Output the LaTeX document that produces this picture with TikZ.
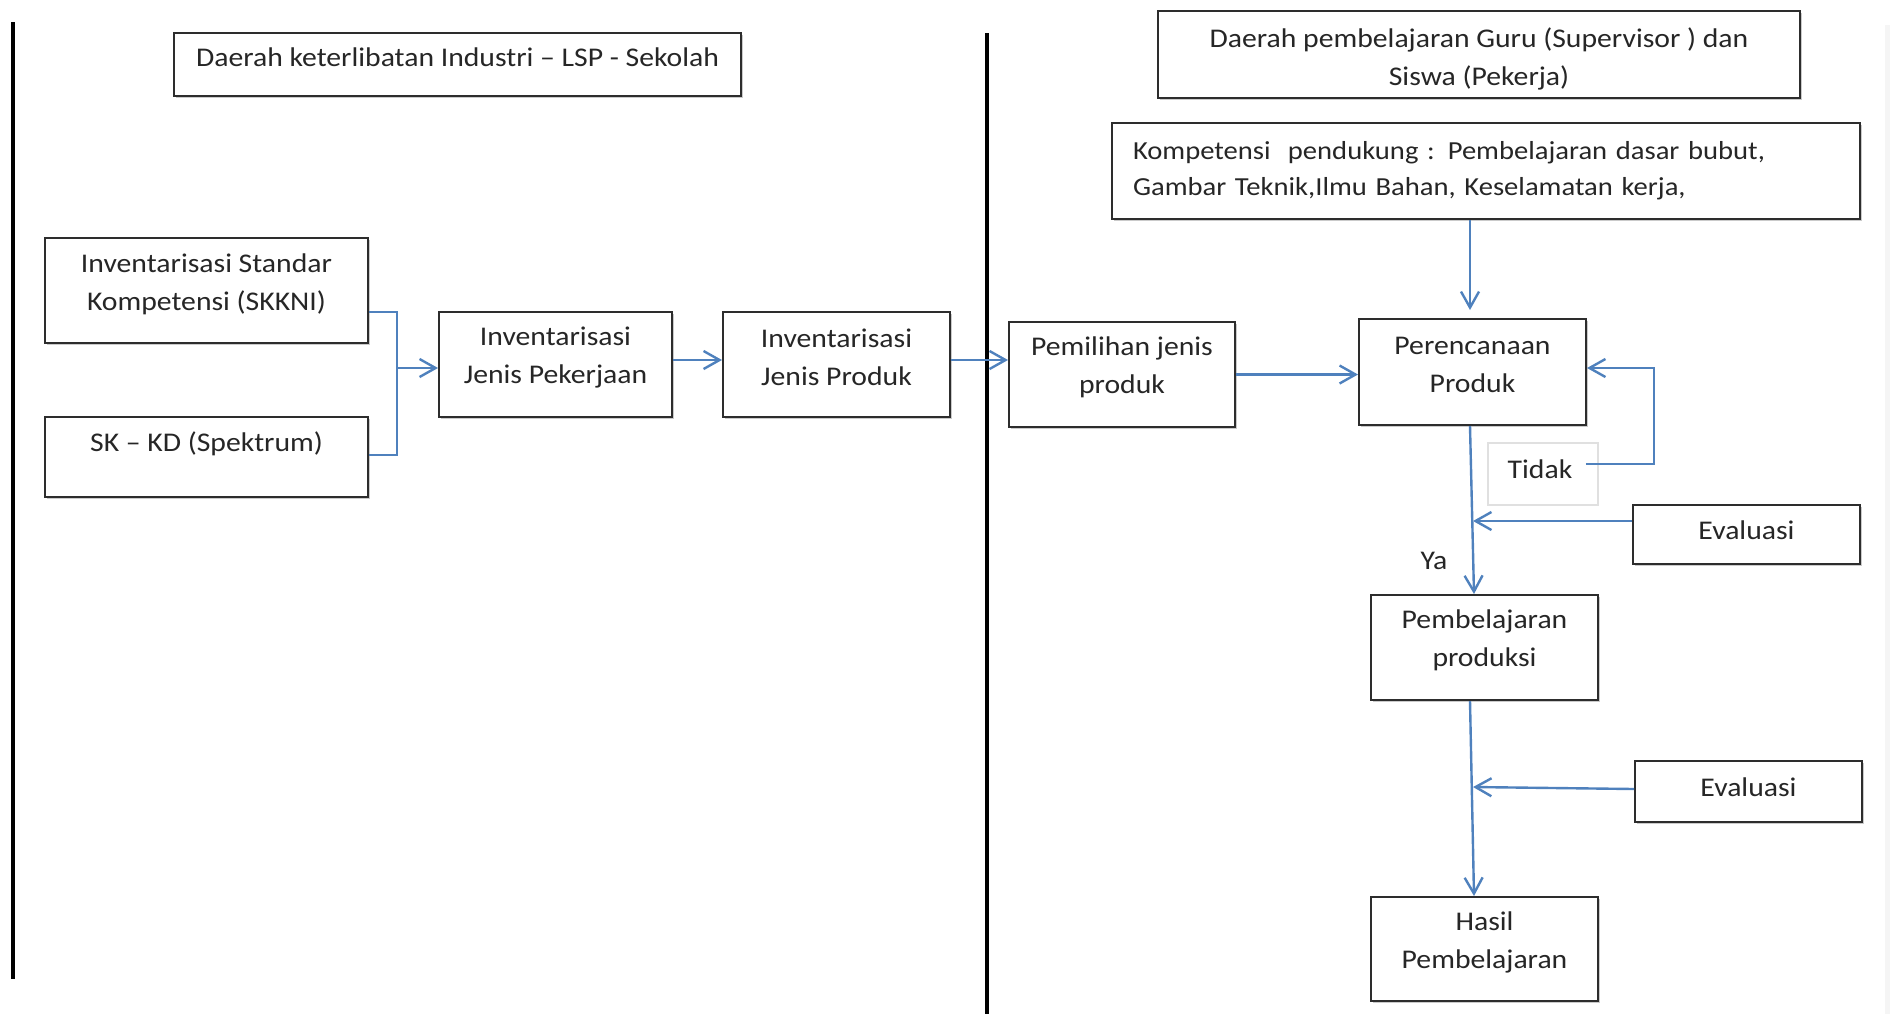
\documentclass[tikz,border=0pt]{standalone}
\usepackage{fontspec}
\setmainfont{Carlito}[FakeStretch=1.1]
\usetikzlibrary{arrows.meta,shadows}

\definecolor{linkblue}{RGB}{79,129,189}
\definecolor{inkgray}{RGB}{45,45,45}

\tikzset{
  box/.style={draw=inkgray, line width=1pt, fill=white, inner sep=0pt,
    align=center, text=black!85,
    drop shadow={shadow xshift=0.9pt, shadow yshift=-0.9pt, fill=black!35, opacity=0.6}},
  % bottom strut so the text block sits a little above centre
  padtext/.style={execute at end node={\rule[-#1]{0pt}{#1}}},
  conn/.style={draw=linkblue, line width=1.2pt},
  arr/.style={conn, -{Straight Barb[length=8pt,width=9pt,line width=1.2pt]}},
  divider/.style={line width=1.8pt, black},
  lbl/.style={text=black!85, inner sep=0pt},
}

\begin{document}
\begin{tikzpicture}[x=0.5pt, y=-0.5pt, font=\fontsize{13.5pt}{19pt}\selectfont]
\useasboundingbox (0,0) rectangle (1890,1014);

% faint right margin band
\fill[black!4] (1885,25) rectangle (1890,1014);

% column dividers
\draw[divider] (13,22) -- (13,979);
\draw[divider] (987,33) -- (987,1014);

% headers
\node[box, padtext=7pt, minimum width=283.5pt, minimum height=31.5pt] (tl) at (457.5,64.5)
  {Daerah keterlibatan Industri -- LSP - Sekolah};
\node[box, minimum width=321pt, minimum height=43.5pt] (tr) at (1479,54.5)
  {\rule{0pt}{14.5pt}Daerah pembelajaran Guru (Supervisor ) dan\\Siswa (Pekerja)};
\node[box, align=left, inner xsep=10.5pt, text width=353pt, minimum height=48pt,
  font=\fontsize{13pt}{18pt}\selectfont] (komp) at (1486,171)
  {Kompetensi\ \ pendukung : Pembelajaran dasar bubut,\\Gambar Teknik,Ilmu Bahan, Keselamatan kerja,};

% left column
\node[box, padtext=8pt, minimum width=161.5pt, minimum height=52.5pt] (skkni) at (206.5,290.5)
  {Inventarisasi Standar\\Kompetensi (SKKNI)};
\node[box, minimum width=161.5pt, minimum height=40pt] (skkd) at (206.5,457)
  {SK -- KD (Spektrum)\\[-3.6pt]\mbox{}};
\node[box, padtext=9pt, minimum width=116.5pt, minimum height=52.5pt] (jpk) at (555.5,364.5)
  {Inventarisasi\\Jenis Pekerjaan};
\node[box, padtext=7.5pt, minimum width=113.5pt, minimum height=52.5pt] (jpr) at (836.5,364.5)
  {Inventarisasi\\Jenis Produk};

% right column
\node[box, padtext=9pt, minimum width=113pt, minimum height=52.5pt] (pem) at (1122,374.5)
  {Pemilihan jenis\\produk};
\node[box, padtext=7pt, minimum width=113.5pt, minimum height=53pt] (per) at (1472.5,372)
  {Perencanaan\\Produk};
\node[draw=black!12, line width=0.8pt, inner sep=0pt, minimum width=55pt, minimum height=31pt] (tidak) at (1543,474) {};
\node[lbl] (tidaktxt) at (1540,469) {Tidak};
\node[box, padtext=4pt, minimum width=113.5pt, minimum height=29.5pt] (ev1) at (1746.5,534.5) {Evaluasi};
\node[lbl] (ya) at (1434,561) {Ya};
\node[box, padtext=9pt, minimum width=113.5pt, minimum height=52.5pt] (pp) at (1484.5,647.5)
  {Pembelajaran\\produksi};
\node[box, padtext=4pt, minimum width=113.5pt, minimum height=30.5pt] (ev2) at (1748.5,791.5) {Evaluasi};
\node[box, padtext=8.5pt, minimum width=113.5pt, minimum height=52pt] (hasil) at (1484.5,949)
  {Hasil\\Pembelajaran};

% junction points
\coordinate (j1) at (397,368);
\coordinate (m1) at (1473,521);
\coordinate (m2) at (1473,787);

% left column flow
\draw[conn] ([yshift=-10.75pt]skkni.east) -| (j1) |- ([yshift=1pt]skkd.east);
\draw[arr] (j1) -- (j1 -| jpk.west);
\draw[arr] ([yshift=2.25pt]jpk.east) -- ([yshift=2.25pt]jpr.west);
\coordinate (a1) at ([yshift=2.25pt]jpr.east);
\draw[arr] (a1) -- (a1 -| pem.west);

% right column flow
\draw[arr] (pem.east) -- (pem.east -| per.west);
\draw[arr, shorten >=4pt] ([xshift=-1.25pt]per.north |- komp.south) -- ([xshift=-1.25pt]per.north);
\draw[arr] ([xshift=-6.5pt,yshift=5pt]tidak.east) -| ([xshift=33.5pt,yshift=2pt]per.east) -- ([yshift=2pt]per.east);
\draw[arr] ([xshift=-1.25pt]per.south) -- ([xshift=-5.25pt]pp.north);
\draw[arr] ([yshift=6.75pt]ev1.west) -- (m1);
\draw[arr] ([xshift=-7.25pt]pp.south) -- ([xshift=-5.25pt]hasil.north);
\draw[arr] ([yshift=1.25pt]ev2.west) -- (m2);
\end{tikzpicture}
\end{document}
